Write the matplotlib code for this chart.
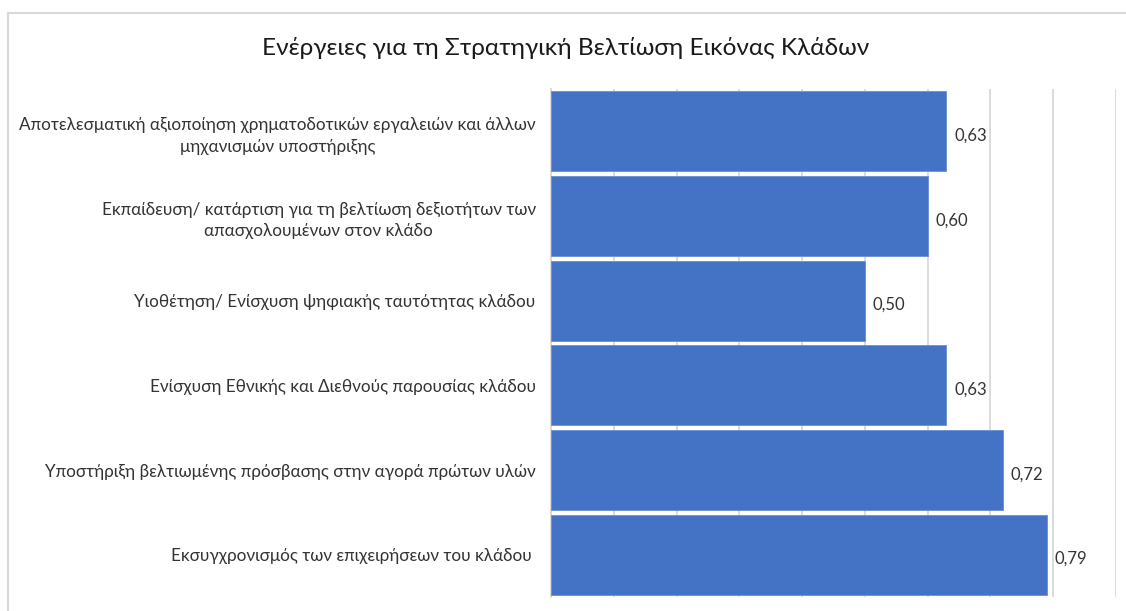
import matplotlib.pyplot as plt
from matplotlib.lines import Line2D

plt.rcParams['font.family'] = ['Lato', 'DejaVu Sans']

# data, top to bottom as in the chart
categories = [
    "Αποτελεσματική αξιοποίηση χρηματοδοτικών εργαλειών και άλλων\nμηχανισμών υποστήριξης",
    "Εκπαίδευση/ κατάρτιση για τη βελτίωση δεξιοτήτων των\nαπασχολουμένων στον κλάδο",
    "Υιοθέτηση/ Ενίσχυση ψηφιακής ταυτότητας κλάδου",
    "Ενίσχυση Εθνικής και Διεθνούς παρουσίας κλάδου",
    "Υποστήριξη βελτιωμένης πρόσβασης στην αγορά πρώτων υλών",
    "Εκσυγχρονισμός των επιχειρήσεων του κλάδου ",
]
values = [0.63, 0.60, 0.50, 0.63, 0.72, 0.79]
x_ticks = [0.0, 0.1, 0.2, 0.3, 0.4, 0.5, 0.6, 0.7, 0.8, 0.9]

title = "Ενέργειες για τη Στρατηγική Βελτίωση Εικόνας Κλάδων"

bar_color = "#4472C4"
grid_color = "#d9d9d9"
text_color = "#333333"

fig = plt.figure(figsize=(11.26, 6.11), dpi=100)
ax = fig.add_axes([0.4893, 0.0229, 0.5018, 0.8314])

ypos = list(range(len(categories)))
ax.barh(ypos, values, height=0.945, color=bar_color, edgecolor="#6a8fd3", linewidth=0.6, zorder=3)

for y, v in zip(ypos, values):
    ax.text(v + 0.012, y + 0.05, f"{v:.2f}".replace(".", ","), va="center", ha="left",
            fontsize=12, color=text_color)

ax.set_ylim(len(categories) - 0.5, -0.5)
ax.set_xlim(0, 0.9)
ax.set_xticks(x_ticks)
ax.set_xticklabels([])
ax.tick_params(axis="x", length=0)
ax.tick_params(axis="y", length=0, pad=11)
ax.set_yticks(ypos)
ax.set_yticklabels(categories, fontsize=12.3, color=text_color)
for lbl in ax.get_yticklabels():
    lbl.set_multialignment("center")
    lbl.set_linespacing(1.45)

ax.grid(axis="x", color=grid_color, linewidth=1.3, zorder=0)
for side in ["top", "right", "bottom"]:
    ax.spines[side].set_visible(False)
ax.spines["left"].set_color(grid_color)
ax.spines["left"].set_linewidth(1.3)

fig.text(0.502, 0.921, title, ha="center", va="center", fontsize=17.6, color="#1a1a1a")

# chart area border (top and left visible in the crop)
fig.add_artist(Line2D([8 / 1126, 1], [1 - 13 / 611, 1 - 13 / 611], color=grid_color, linewidth=1.5))
fig.add_artist(Line2D([8 / 1126, 8 / 1126], [0, 1 - 13 / 611], color=grid_color, linewidth=1.5))

fig.savefig("out.png", dpi=100)
